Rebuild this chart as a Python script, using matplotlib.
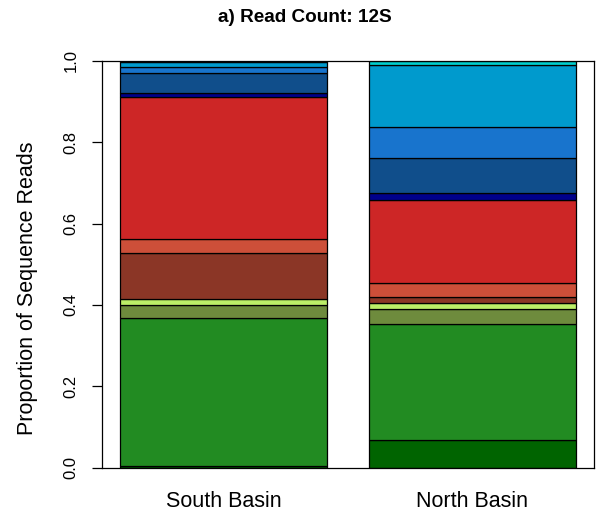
import numpy as np
import matplotlib.pyplot as plt

plt.rcParams['font.family'] = ['Liberation Sans', 'DejaVu Sans']

sites = ["South Basin", "North Basin"]
# segment colours, stacked from the bottom up
colours = ["#006400", "#228B22", "#6E8B3D", "#BCEE68", "#8B3626", "#CD4F39",
           "#CD2626", "#00008B", "#104E8B", "#1874CD", "#009ACD", "#00CDCD"]
south = [0.003, 0.365, 0.031, 0.015, 0.113, 0.035, 0.350, 0.010, 0.048, 0.015, 0.013, 0.002]
north = [0.068, 0.285, 0.036, 0.015, 0.016, 0.034, 0.203, 0.018, 0.086, 0.076, 0.153, 0.010]

fig = plt.figure(figsize=(5.97, 5.18), dpi=100)
ax = fig.add_axes([102 / 597, 50.5 / 518, 492 / 597, 406.5 / 518])

x = np.array([0.7, 1.9])
data = np.array([south, north])
bottom = np.zeros(2)
for i, c in enumerate(colours):
    ax.bar(x, data[:, i], width=1.0, bottom=bottom, color=c,
           edgecolor="black", linewidth=0.9)
    bottom += data[:, i]

ax.set_xlim(0.112, 2.488)
ax.set_ylim(0, 1)
ax.set_xticks(x)
ax.set_xticklabels(sites, fontsize=15.5)
ax.tick_params(axis="x", length=0, pad=17)
ax.set_yticks([0, 0.2, 0.4, 0.6, 0.8, 1.0])
ax.set_yticklabels(["0.0", "0.2", "0.4", "0.6", "0.8", "1.0"], rotation=90,
                   va="center", fontsize=12)
ax.tick_params(axis="y", length=7.5, width=0.9, pad=9.5, direction="out")
for s in ax.spines.values():
    s.set_linewidth(0.9)

fig.text(28 / 597, 1 - 288 / 518, "Proportion of Sequence Reads", rotation=90,
         ha="center", va="center", fontsize=15.5)
fig.text(305 / 597, 1 - 18 / 518, "a) Read Count: 12S", ha="center", va="center",
         fontsize=13.7, fontweight="bold")

fig.savefig("out.png", dpi=100)
